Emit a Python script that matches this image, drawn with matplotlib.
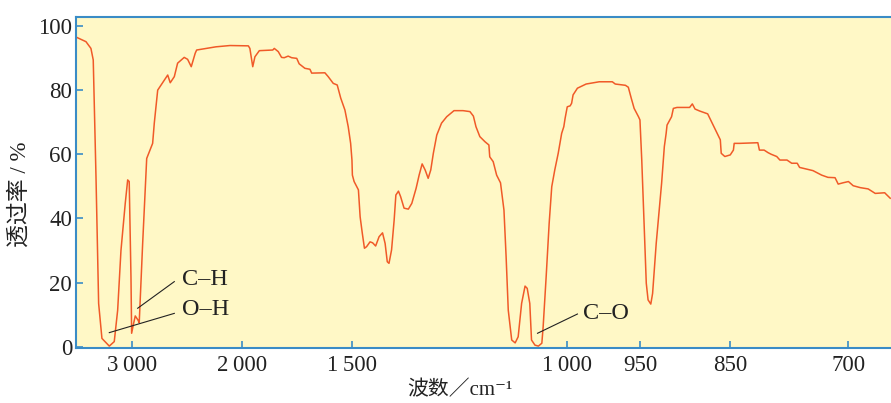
import numpy as np
import matplotlib
matplotlib.use("Agg")
import matplotlib.pyplot as plt

plt.rcParams['font.family'] = ['Liberation Serif', 'Noto Sans CJK SC', 'DejaVu Serif']

# ---- data: wavenumber (cm^-1) and transmittance (%) ----
wavenumber = [3506, 3418, 3373, 3352, 3327, 3303, 3273, 3206, 3161, 3130, 3100, 3061, 3039, 3025,
              3009, 3003, 2988, 2970, 2945, 2934, 2903, 2866, 2812, 2797, 2766, 2721, 2675, 2652,
              2615, 2585, 2525, 2494, 2461, 2425, 2412, 2236, 2109, 1971, 1964, 1951, 1941, 1921,
              1860, 1853, 1835, 1820, 1808, 1790, 1774, 1751, 1740, 1714, 1691, 1683, 1623, 1608,
              1585, 1567, 1551, 1532, 1517, 1506, 1500, 1499, 1495, 1485, 1481, 1476, 1471, 1466,
              1458, 1452, 1445, 1437, 1429, 1423, 1418, 1414, 1408, 1402, 1398, 1392, 1387, 1379,
              1369, 1361, 1351, 1344, 1337, 1330, 1323, 1317, 1311, 1303, 1292, 1280, 1263, 1242,
              1226, 1218, 1212, 1203, 1191, 1182, 1180, 1172, 1164, 1155, 1147, 1142, 1137, 1129,
              1121, 1114, 1106, 1098, 1093, 1087, 1083, 1075, 1067, 1059, 1056, 1049, 1042, 1036,
              1029, 1021, 1013, 1008, 1005, 1000, 998, 997, 996, 993, 987, 978, 969, 967, 960, 958,
              956, 954, 951, 950, 948, 946, 943, 941, 938, 936, 932, 926, 923, 921, 920, 915, 913,
              909, 895, 892, 889, 884, 875, 869, 861, 860, 856, 850, 846, 845, 838, 815, 813, 807,
              802, 798, 791, 787, 778, 772, 765, 762, 755, 745, 734, 726, 717, 713, 707, 700, 694,
              685, 675, 666, 654, 652, 647]
transmittance = [96.5, 95.1, 93.0, 89.4, 53.0, 13.5, 2.6, 0.2, 1.6, 11.4, 30.0, 44.7, 52.0, 51.5,
                 21.8, 4.2, 6.8, 9.6, 8.3, 7.5, 32.0, 58.7, 63.4, 69.7, 80.0, 82.3, 84.7, 82.3,
                 84.2, 88.4, 90.2, 89.6, 87.3, 91.5, 92.5, 93.5, 93.9, 93.8, 93.0, 87.3, 90.4, 92.3,
                 92.5, 93.0, 92.0, 90.2, 90.1, 90.6, 90.1, 89.9, 88.2, 86.8, 86.5, 85.3, 85.4, 84.2,
                 82.1, 81.6, 77.5, 73.8, 68.6, 63.4, 58.2, 53.5, 51.5, 48.9, 40.5, 35.4, 30.7, 31.2,
                 32.7, 32.4, 31.4, 34.3, 35.5, 32.2, 26.5, 26.0, 30.2, 39.5, 47.3, 48.5, 46.8, 43.2,
                 42.9, 44.7, 49.4, 53.5, 57.0, 55.1, 52.5, 55.1, 60.3, 66.0, 69.7, 71.7, 73.6, 73.6,
                 73.3, 71.9, 68.6, 65.5, 63.9, 62.9, 59.2, 57.7, 53.5, 51.1, 42.6, 28.1, 11.4, 2.1,
                 1.2, 3.1, 13.5, 18.9, 18.2, 13.5, 2.1, 0.5, 0.2, 1.1, 6.2, 21.8, 38.5, 49.9,
                 55.1, 60.3, 66.5, 68.6, 71.2, 74.8, 75.1, 75.9, 78.5, 80.6, 81.9, 82.6, 82.6, 81.9, 81.5, 80.9,
                 77.5, 74.3, 71.7, 70.7, 58.2, 42.6, 19.8, 14.6, 13.3, 16.6, 32.2, 51.0, 62.4, 66.5, 69.1, 71.7, 74.3,
                 74.6, 74.6, 75.7, 74.1, 73.5, 72.6, 69.1, 64.5, 60.3, 59.3, 59.8, 61.3, 63.4, 63.4, 63.6, 61.3, 61.3,
                 60.5, 60.0, 59.3, 58.2, 58.2, 57.2, 57.2, 55.9, 55.5, 54.9, 53.5, 52.8, 52.7, 50.7, 51.1, 51.5, 50.2,
                 49.6, 49.2, 47.8, 48.0, 47.5, 46.3]

tick_values = [3000, 2000, 1500, 1000, 950, 850, 700]
tick_labels = ['3\u2009000', '2\u2009000', '1\u2009500', '1\u2009000', '950', '850', '700']
y_ticks = [0, 20, 40, 60, 80, 100]

# annotations: label, (line start wn, T), (line end wn, T), text position (wn, T)
annotations = [
    ('C\u2013H', (2948, 12.0), (2615, 20.3), (2548, 21.0)),
    ('O\u2013H', (3206, 4.4), (2615, 10.4), (2548, 11.7)),
    ('C\u2013O', (1069, 4.2), (993, 10.2), (989, 10.4)),
]

# ---- piecewise (non-linear) wavenumber axis of the original figure ----
KN_WN = np.array([4000, 3000, 2000, 1500, 1000, 950, 850, 700, 500], dtype=float)
KN_POS = np.array([22.0, 132.0, 242.0, 352.0, 567.3, 640.0, 730.3, 848.5, 1006.1])

def fwd(w):
    # increasing function of wavenumber
    w = np.asarray(w, dtype=float)
    return -np.interp(-w, -KN_WN, KN_POS)

def inv(p):
    p = np.asarray(p, dtype=float)
    return -np.interp(-p, KN_POS, -KN_WN)

BLUE = '#3a8cc6'
fig = plt.figure(figsize=(8.91, 4.03), dpi=100)
ax = fig.add_axes([76.3 / 891, 1 - 347.7 / 403, 1 - 76.3 / 891, (347.7 - 17.3) / 403])
ax.set_facecolor('#fff8c6')
ax.set_xscale('function', functions=(fwd, inv))
ax.plot(wavenumber, transmittance, color='#f05a28', lw=1.1)
ax.set_xlim(3506, 646)
ax.set_ylim(-0.3, 102.7)

ax.set_xticks(tick_values)
ax.set_xticklabels(tick_labels)
ax.set_yticks(y_ticks)
ax.xaxis.set_minor_locator(matplotlib.ticker.NullLocator())
ax.tick_params(direction='in', length=5, width=1.2, color=BLUE, labelsize=16.5,
               labelcolor='#222222')
ax.tick_params(axis='x', pad=5)
ax.tick_params(axis='y', pad=3)
for s in ['left', 'bottom', 'top']:
    ax.spines[s].set_color(BLUE)
    ax.spines[s].set_linewidth(1.5)
ax.spines['right'].set_visible(False)

for label, p0, p1, pt in annotations:
    ax.plot([p0[0], p1[0]], [p0[1], p1[1]], color='#222222', lw=0.8)
    ax.text(pt[0], pt[1], label, fontsize=17.5, ha='left', va='center', color='#222222')

fig.text(460 / 891, 1 - 390 / 403, '波数／cm\u207b\u00b9', fontsize=15, ha='center', va='center',
         color='#222222')
fig.text(20 / 891, 1 - 194 / 403, '透过率 / %', fontsize=16.5, ha='center', va='center',
         rotation=90, color='#222222')

fig.savefig('out.png', dpi=100)
